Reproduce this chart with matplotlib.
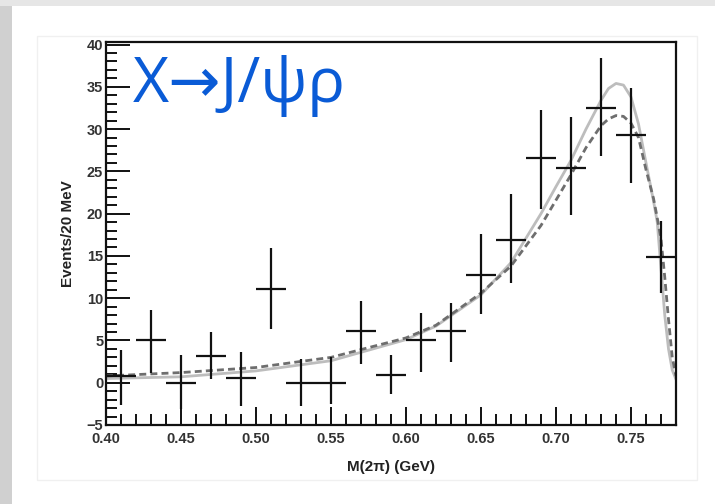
import matplotlib.pyplot as plt
from matplotlib.patches import Rectangle
from matplotlib.ticker import MultipleLocator, FormatStrFormatter

# measured points: bin centre, events, lower / upper error
mass = [0.41, 0.43, 0.45, 0.47, 0.49, 0.51, 0.53, 0.55, 0.57, 0.59,
        0.61, 0.63, 0.65, 0.67, 0.69, 0.71, 0.73, 0.75, 0.77]
events = [0.8, 5.0, 0.0, 3.2, 0.6, 11.1, 0.0, 0.0, 6.1, 0.9,
          5.0, 6.1, 12.8, 16.9, 26.6, 25.4, 32.5, 29.3, 14.9]
err_lo = [3.4, 3.9, 3.1, 2.8, 3.4, 4.8, 2.8, 2.5, 3.9, 2.2,
          3.7, 3.6, 4.7, 5.1, 6.0, 5.6, 5.7, 5.7, 4.3]
err_hi = [3.1, 3.6, 3.3, 2.8, 3.0, 4.8, 2.8, 3.0, 3.6, 2.4,
          3.3, 3.3, 4.8, 5.4, 5.7, 6.0, 5.9, 5.6, 4.2]
bin_half = 0.01

# fit curves
fit_x = [0.40, 0.45, 0.50, 0.55, 0.60, 0.62, 0.65, 0.67, 0.69, 0.70,
         0.71, 0.72, 0.73, 0.735, 0.74, 0.745, 0.75, 0.755, 0.76, 0.765,
         0.7675, 0.77, 0.7725, 0.775, 0.7775, 0.78]
fit_solid = [0.5, 0.7, 1.4, 2.6, 5.1, 6.7, 10.4, 14.2, 20.0, 23.2,
             26.3, 30.0, 33.4, 34.8, 35.4, 35.2, 33.8, 30.6, 26.0, 21.5,
             19.0, 13.5, 8.0, 4.0, 1.5, 0.4]
fit_dashed = [0.8, 1.2, 1.8, 3.0, 5.3, 6.8, 10.6, 13.8, 18.6, 21.6,
              24.6, 27.8, 30.4, 31.2, 31.6, 31.5, 30.7, 29.0, 25.2, 21.8,
              19.5, 17.0, 12.5, 7.5, 3.0, 0.8]

fig = plt.figure(figsize=(7.15, 5.04), dpi=100)
fig.patch.set_facecolor("white")

# slide frame around the picture
fig.patches.append(Rectangle((0, 0), 12 / 715, 1, transform=fig.transFigure,
                             facecolor="#d0d0d0", edgecolor="none", zorder=0))
fig.patches.append(Rectangle((0, 1 - 6 / 504), 1, 6 / 504, transform=fig.transFigure,
                             facecolor="#e6e6e6", edgecolor="none", zorder=0))
fig.patches.append(Rectangle((37 / 715, 24 / 504), 660 / 715, 444 / 504,
                             transform=fig.transFigure, facecolor="none",
                             edgecolor="#f0f0f0", linewidth=1, zorder=0))

ax = fig.add_axes([106 / 715, 79 / 504, 570 / 715, 383 / 504])

ax.plot(fit_x, fit_solid, color="#bdbdbd", linewidth=2.0, zorder=2)
ax.plot(fit_x, fit_dashed, color="#6e6e6e", linewidth=2.0,
        linestyle=(0, (2.5, 1.5)), zorder=2)
ax.errorbar(mass, events, xerr=bin_half, yerr=[err_lo, err_hi],
            fmt="none", ecolor="#111111", elinewidth=1.6, capsize=0, zorder=3)

ax.set_xlim(0.40, 0.78)
ax.set_ylim(-5, 40.3)

ax.xaxis.set_major_locator(MultipleLocator(0.05))
ax.xaxis.set_minor_locator(MultipleLocator(0.01))
ax.yaxis.set_major_locator(MultipleLocator(5))
ax.yaxis.set_minor_locator(MultipleLocator(1))
ax.xaxis.set_major_formatter(FormatStrFormatter("%.2f"))

ax.tick_params(which="both", direction="in", top=False, right=False,
               color="#111111", width=1.4, labelsize=10.5, labelcolor="#333333")
ax.tick_params(axis="y", which="major", length=17, pad=2)
ax.tick_params(axis="y", which="minor", length=8)
ax.tick_params(axis="x", which="major", length=13, pad=5)
ax.tick_params(axis="x", which="minor", length=8)
for lab in ax.get_xticklabels() + ax.get_yticklabels():
    lab.set_family("Liberation Sans")
    lab.set_fontweight("bold")

for spine in ax.spines.values():
    spine.set_linewidth(1.6)
    spine.set_color("#111111")

ax.set_xlabel("M(2π) (GeV)", fontsize=11, fontweight="bold",
              family="Liberation Sans", color="#222222", labelpad=10)
ax.set_ylabel("Events/20 MeV", fontsize=11, fontweight="bold",
              family="Liberation Sans", color="#222222", labelpad=8)

ax.text(0.418, 33.2, "X→J/ψρ", fontsize=45, color="#0a5bd6",
        family=["Open Sans", "DejaVu Sans"], va="baseline", ha="left")

fig.savefig("out.png", dpi=100, facecolor=fig.get_facecolor())
